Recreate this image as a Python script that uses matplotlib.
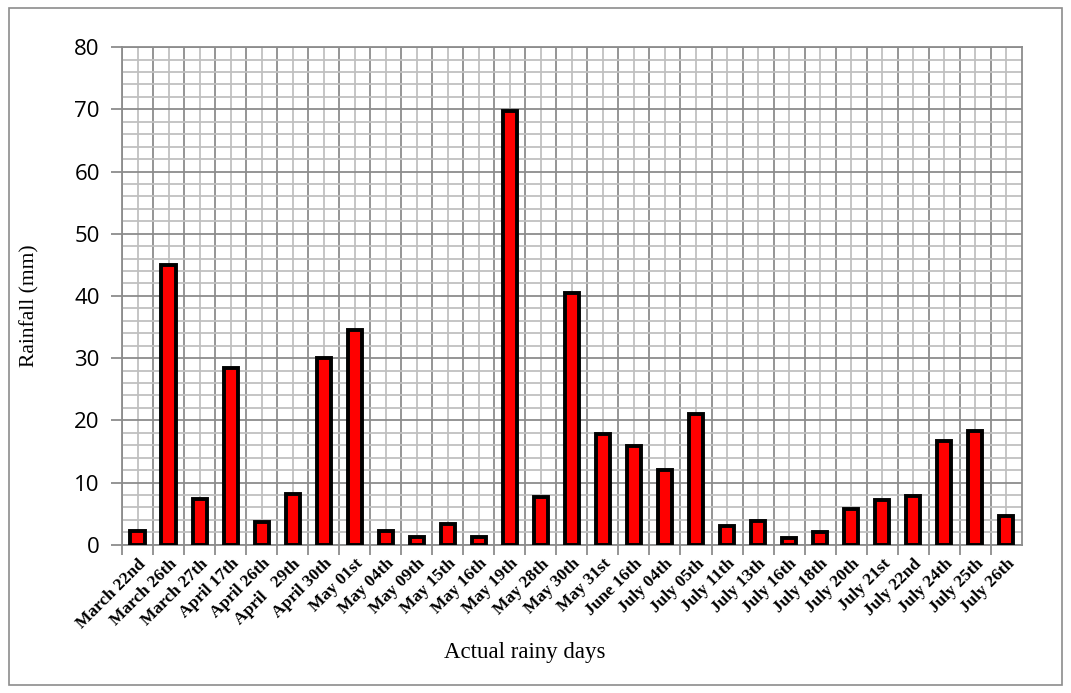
import numpy as np
import matplotlib
matplotlib.use("Agg")
import matplotlib.pyplot as plt
from matplotlib.patches import Rectangle
from matplotlib.ticker import MultipleLocator

days = ['March 22nd', 'March 26th', 'March 27th', 'April 17th', 'April 26th',
        'April   29th', 'April 30th', 'May 01st', 'May 04th', 'May 09th',
        'May 15th', 'May 16th', 'May 19th', 'May 28th', 'May 30th',
        'May 31st', 'June 16th', 'July 04th', 'July 05th', 'July 11th',
        'July 13th', 'July 16th', 'July 18th', 'July 20th', 'July 21st',
        'July 22nd', 'July 24th', 'July 25th', 'July 26th']
rainfall = [2.2, 45.0, 7.4, 28.4, 3.7, 8.2, 30.0, 34.5, 2.2, 1.3,
            3.3, 1.2, 69.7, 7.6, 40.5, 17.8, 15.8, 12.0, 21.0, 3.0,
            3.8, 1.0, 2.1, 5.8, 7.2, 7.8, 16.6, 18.2, 4.6]

fig = plt.figure(figsize=(10.71, 6.93), dpi=100)
ax = fig.add_axes([0.114, 0.214, 0.840, 0.718])

x = np.arange(len(days))
ax.bar(x, rainfall, width=0.46, color='#ff0000', edgecolor='black',
       linewidth=2.8, zorder=3)

ax.set_xlim(-0.5, len(days) - 0.5)
ax.set_ylim(0, 80)

# grid: majors at 10 / category edges, minors at 2 / category centres
ax.yaxis.set_major_locator(MultipleLocator(10))
ax.yaxis.set_minor_locator(MultipleLocator(2))
ax.set_xticks(x - 0.5, minor=False)
ax.set_xticklabels([])
ax.set_xticks(x, labels=days, minor=True)
ax.grid(which='major', color='#8c8c8c', linewidth=1.3, zorder=0)
ax.grid(which='minor', color='#c0c0c0', linewidth=1.3, zorder=0)
ax.set_axisbelow(True)

ax.tick_params(axis='x', which='minor', length=0, pad=8)
ax.tick_params(axis='x', which='major', length=7, color='#8c8c8c', width=1.3)
ax.tick_params(axis='y', which='major', length=8, color='#8c8c8c', width=1.3,
               labelsize=16, pad=8)
ax.tick_params(axis='y', which='minor', length=0)
for lab in ax.get_xticklabels(minor=True):
    lab.set_rotation(45)
    lab.set_ha('right')
    lab.set_rotation_mode('anchor')
    lab.set_family('Liberation Serif')
    lab.set_weight('bold')
    lab.set_fontsize(12.5)
for lab in ax.get_yticklabels():
    lab.set_family('Open Sans')

for s in ax.spines.values():
    s.set_color('#8c8c8c')
    s.set_linewidth(1.3)

ax.set_ylabel('Rainfall (mm)', family='Liberation Serif', fontsize=15.5)
ax.yaxis.set_label_coords(-0.092, 0.48)
fig.text(0.49, 0.058, 'Actual rainy days', family='Liberation Serif',
         fontsize=16.5, ha='center', va='center')

fig.patches.append(Rectangle((0.008, 0.012), 0.984, 0.976, transform=fig.transFigure,
                             fill=False, edgecolor='#8c8c8c', linewidth=1.2))

fig.savefig('out.png', dpi=100)
